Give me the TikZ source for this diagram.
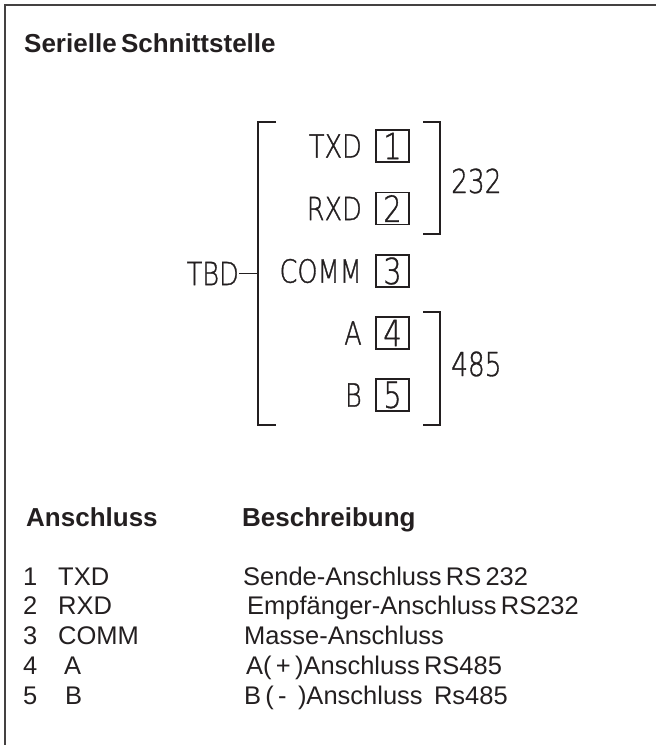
\documentclass[tikz,border=0pt]{standalone}
\usepackage{fontspec}
\setmainfont{Liberation Sans}
\IfFontExistsTF{DejaVu Sans ExtraLight}
  {\newfontfamily\cadfont[FakeStretch=0.8, FakeBold=1]{DejaVu Sans ExtraLight}}
  {\newfontfamily\cadfont[FakeStretch=0.84]{Liberation Sans}}
\definecolor{ink}{HTML}{231F20}
\tikzset{
  frameline/.style={draw=ink!85, line width=1.4pt},
  cadline/.style={draw=ink, line width=1.1pt},
  headtext/.style={anchor=base west, inner sep=0pt, text=ink, font=\fontsize{26}{26}\selectfont\bfseries},
  rowtext/.style={anchor=base west, inner sep=0pt, text=ink, font=\fontsize{25.5}{25.5}\selectfont},
  pinlabel/.style={anchor=east, inner sep=0pt, text=ink, font=\cadfont\fontsize{32}{32}\selectfont},
  pinbox/.style={draw=ink, line width=1.1pt, minimum width=33pt, minimum height=32pt, inner sep=0pt, text=ink, font=\cadfont\fontsize{36}{36}\selectfont},
  grouptext/.style={anchor=west, inner sep=0pt, text=ink, font=\cadfont\fontsize{33}{33}\selectfont},
}
\begin{document}
\begin{tikzpicture}[x=1pt,y=-1pt]
\useasboundingbox (0,0) rectangle (656,745);
% frame
\draw[frameline] (656,5) -- (5,5) -- (5,745);
% title
\node[headtext] (title) at (24,52) {Serielle\,Schnittstelle};
% pin boxes and labels
\node[pinbox] (p1) at (392.5,146) {1};
\node[pinbox] (p2) at (392.5,208.5) {2};
\node[pinbox] (p3) at (392.5,271) {3};
\node[pinbox] (p4) at (392.5,333) {4};
\node[pinbox] (p5) at (392.5,395) {5};
\node[pinlabel] (l1) at (362,146) {TXD};
\node[pinlabel] (l2) at (362,208.5) {RXD};
\node[pinlabel] (l3) at (362,271) {COMM};
\node[pinlabel] (l4) at (362,333) {A};
\node[pinlabel] (l5) at (362,395) {B};
% left bracket with TBD
\draw[cadline] (276,122) -- (258,122) -- (258,425) -- (276,425);
\coordinate (bl) at (258,273.5);
\node[pinlabel] (tbd) at (239,273.5) {TBD};
\draw[cadline] (tbd.east) -- (bl);
% right brackets
\draw[cadline] (423,122) -- (440,122) -- (440,234) -- (423,234);
\draw[cadline] (423,312) -- (440,312) -- (440,425) -- (423,425);
\node[grouptext] (g232) at (451,181) {232};
\node[grouptext] (g485) at (451,364) {485};
% table
\node[headtext] (hA) at (26,526) {Anschluss};
\node[headtext] (hB) at (242,526) {Beschreibung};
\node[rowtext] (n1) at (23,585) {1};
\node[rowtext] (n2) at (23,614.5) {2};
\node[rowtext] (n3) at (23,644) {3};
\node[rowtext] (n4) at (23,674) {4};
\node[rowtext] (n5) at (23,704) {5};
\node[rowtext] (s1) at (58,585) {TXD};
\node[rowtext] (s2) at (58,614.5) {RXD};
\node[rowtext] (s3) at (58,644) {COMM};
\node[rowtext] (s4) at (64,674) {A};
\node[rowtext] (s5) at (65,704) {B};
\node[rowtext] (d1) at (243,585) {Sende-Anschluss\,RS\,232};
\node[rowtext] (d2) at (247,614.5) {Empfänger-Anschluss\,RS232};
\node[rowtext] (d3) at (244,644) {Masse-Anschluss};
\node[rowtext] (d4) at (246,674) {A(\,+\,)Anschluss\,RS485};
\node[rowtext] (d5) at (244,704) {B\,(\,-\ \,)Anschluss\ \,Rs485};
\end{tikzpicture}
\end{document}
